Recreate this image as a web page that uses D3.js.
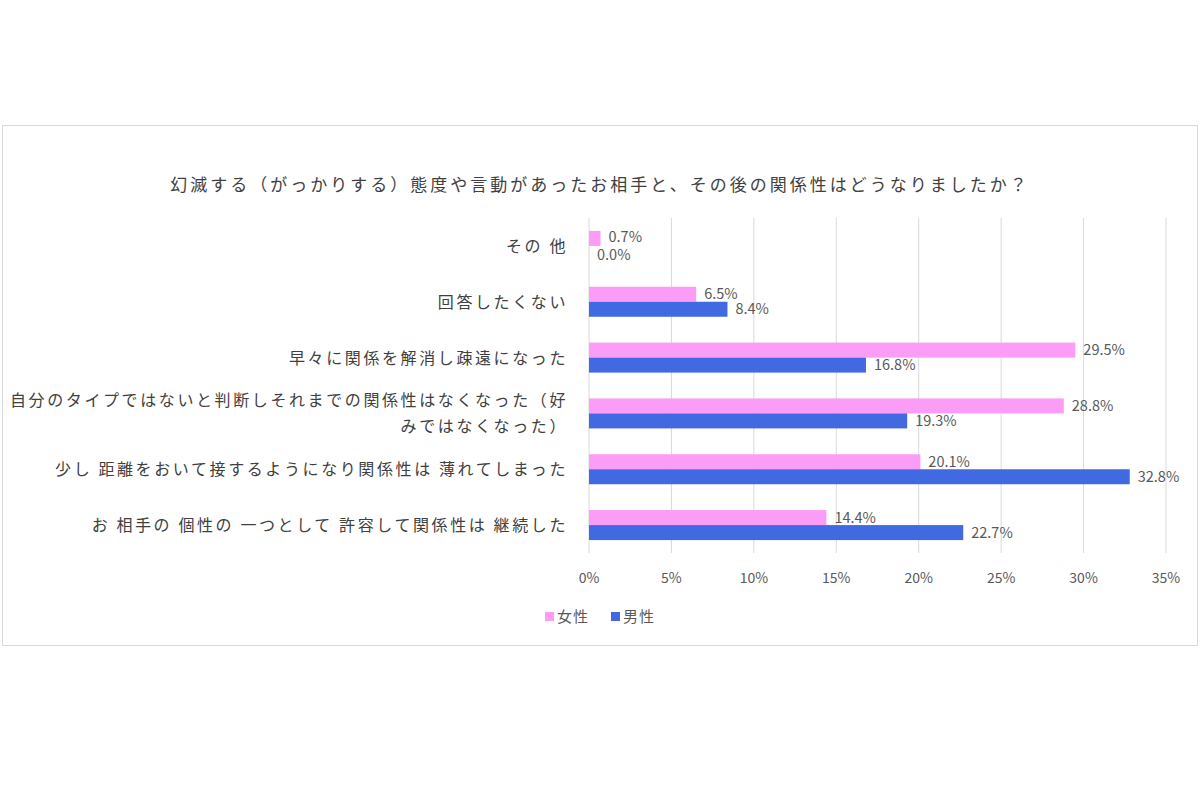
<!DOCTYPE html><html><head><meta charset="utf-8"><script src="https://cdn.jsdelivr.net/npm/d3@7"></script>
<style>body{margin:0;background:#fff}text{font-family:"Noto Sans CJK JP",sans-serif}</style></head><body><svg id="c" width="1200" height="800"></svg><script>
const categories=["その 他","回答したくない","早々に関係を解消し疎遠になった","自分のタイプではないと判断しそれまでの関係性はなくなった（好|みではなくなった）","少し 距離をおいて接するようになり関係性は 薄れてしまった","お 相手の 個性の 一つとして 許容して関係性は 継続した"];
const female=[0.7,6.5,29.5,28.8,20.1,14.4];
const male=[0.0,8.4,16.8,19.3,32.8,22.7];
const ticks=[0,5,10,15,20,25,30,35];
const seriesNames=["女性","男性"];
const colors=["#fb9cf6","#4169e1"];
const title="幻滅する（がっかりする）態度や言動があったお相手と、その後の関係性はどうなりましたか？";
const svg=d3.select("#c");
svg.append("rect").attr("x",2.5).attr("y",125.5).attr("width",1195).attr("height",520).attr("fill","#fff").attr("stroke","#d9d9d9");
svg.append("text").attr("x",600).attr("y",191).attr("text-anchor","middle").attr("font-size",17).attr("letter-spacing",3).attr("fill","#404040").text(title);
const x=d3.scaleLinear().domain([0,35]).range([589,1166]);
const y=d3.scaleBand().domain(categories).range([218,553]);
const g=svg.append("g");
g.selectAll(".grid").data(ticks).join("line").attr("x1",d=>x(d)).attr("x2",d=>x(d)).attr("y1",218).attr("y2",553).attr("stroke","#d9d9d9");
g.selectAll(".tl").data(ticks).join("text").attr("x",d=>x(d)).attr("y",583).attr("text-anchor","middle").attr("font-size",14).attr("fill","#595959").text(d=>d+"%");
const bh=15;
categories.forEach((c,i)=>{
  const cy=y(c)+y.bandwidth()/2;
  [female[i],male[i]].forEach((v,k)=>{
    const top=cy-bh+k*bh;
    g.append("rect").attr("x",x(0)).attr("y",top).attr("width",x(v)-x(0)).attr("height",bh).attr("fill",colors[k]);
    g.append("text").attr("x",x(v)+8).attr("y",top+bh/2+5+(i==0?(k==0?-1:2):0)).attr("font-size",14.5).attr("fill","#595959").text(v.toFixed(1)+"%");
  });
  const lines=c.split("|");
  lines.forEach((l,j)=>{
    g.append("text").attr("x",568).attr("y",cy+6+(j-(lines.length-1)/2)*26).attr("text-anchor","end").attr("font-size",16).attr("letter-spacing",2.6).attr("fill","#404040").text(l);
  });
});
const lg=svg.append("g");
[[545,seriesNames[0],colors[0]],[611,seriesNames[1],colors[1]]].forEach(([lx,n,c])=>{
  lg.append("rect").attr("x",lx).attr("y",612).attr("width",9).attr("height",9).attr("fill",c);
  lg.append("text").attr("x",lx+12).attr("y",622).attr("font-size",15).attr("letter-spacing",1).attr("fill","#595959").text(n);
});
</script></body></html>
